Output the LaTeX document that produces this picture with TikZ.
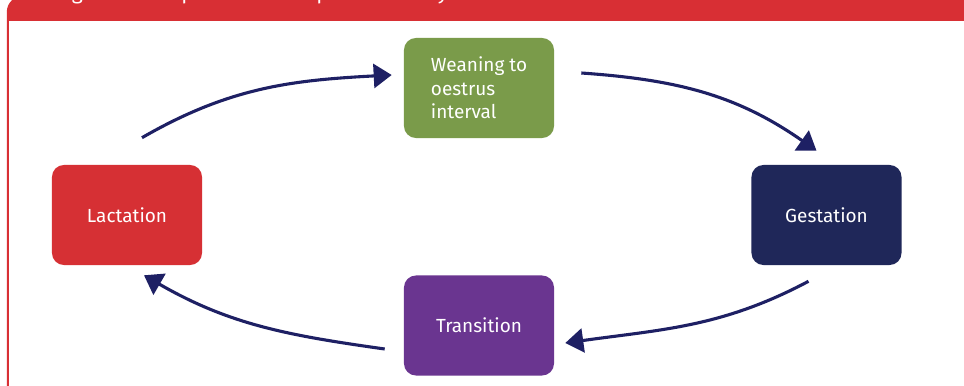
\documentclass[tikz,border=0pt]{standalone}
\usepackage{fontspec}
\setmainfont{Fira Sans}
\usetikzlibrary{arrows.meta}

\definecolor{framered}{RGB}{216,47,52}
\definecolor{lactred}{RGB}{214,48,52}
\definecolor{weangreen}{RGB}{122,155,74}
\definecolor{gestblue}{RGB}{31,39,89}
\definecolor{transpurple}{RGB}{106,53,144}
\definecolor{cyclenavy}{RGB}{30,32,100}

\begin{document}
\begin{tikzpicture}[x=0.025cm,y=0.025cm]
        \useasboundingbox (0,0) rectangle (964,386);
        \clip (0,0) rectangle (964,386);

        % frame with header band
        \fill[framered, rounded corners=0.4cm] (6.8,-30) rectangle (990,390);
        \fill[white] (8.8,-30) rectangle (990,365.3);
        \node[anchor=base west, inner sep=0pt, text=white,
              font=\fontsize{15}{18}\selectfont] (title) at (56,386.3)
              {Figure 1: The phases of the production cycle};

        \begin{scope}[every node/.style={rounded corners=0.3cm, minimum width=3.75cm,
                      minimum height=2.5cm, inner sep=0pt, text=white,
                      font=\fontsize{13.5}{16.7}\selectfont}]
          \node[fill=lactred]              (1) at (127,171)   {Lactation};
          \node[fill=weangreen, align=left] (2) at (479,298)   {Weaning to\\oestrus\\interval};
          \node[fill=gestblue]             (3) at (826.5,171) {Gestation};
          \node[fill=transpurple]          (4) at (479,60.5)  {Transition};
        \end{scope}

        % loose ends of the arcs
        \coordinate (1o) at ([shift={(15,27)}]1.north);
        \coordinate (2i) at ([shift={(-12,13)}]2.west);
        \coordinate (2o) at ([shift={(27,15)}]2.east);
        \coordinate (3i) at ([shift={(-10,14)}]3.north);
        \coordinate (3o) at ([shift={(-18,-16)}]3.south);
        \coordinate (4i) at ([shift={(11,-17.5)}]4.east);
        \coordinate (4o) at ([shift={(-19,-23.5)}]4.west);
        \coordinate (1i) at ([shift={(17,-10)}]1.south);

        \begin{scope}[every edge/.style={draw, cyclenavy, line width=2.2pt,
                      -{Triangle[length=4.5mm,width=6mm]}}]
          \path (1o) edge[out=30,in=183]  (2i);
          \path (2o) edge[out=-4,in=145]  (3i);
          \path (3o) edge[out=208,in=8]   (4i);
          \path (4o) edge[out=172,in=-30] (1i);
        \end{scope}

\end{tikzpicture}
\end{document}
